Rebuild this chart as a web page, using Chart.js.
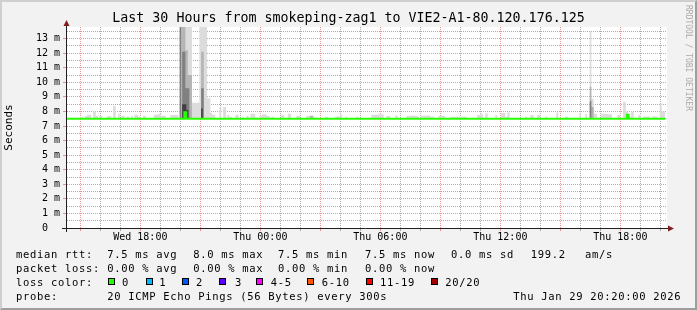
<!DOCTYPE html>
<html><head><meta charset="utf-8">
<script src="https://cdn.jsdelivr.net/npm/chart.js@4.4.1/dist/chart.umd.min.js"></script>
<style>
html,body{margin:0;padding:0;background:#f2f2f2;}
#wrap{position:relative;width:697px;height:310px;background:#f2f2f2;overflow:hidden;font-family:'DejaVu Sans Mono',monospace;}
#c{position:absolute;left:0;top:0;}
#frame{position:absolute;left:0;top:0;width:697px;height:310px;box-sizing:border-box;border-top:2px solid #cfcfcf;border-left:2px solid #cfcfcf;border-right:2px solid #9e9e9e;border-bottom:2px solid #9e9e9e;pointer-events:none;}
.t{position:absolute;font-size:10.5px;letter-spacing:0.68px;white-space:pre;color:#000;line-height:12px;}
.sq{position:absolute;width:7px;height:7px;box-sizing:border-box;border:1px solid #000;top:278px;}
#rrd{position:absolute;left:684px;top:5px;writing-mode:vertical-rl;font-size:8px;color:#aaaaaa;white-space:pre;line-height:9px;}
</style></head>
<body>
<div id="wrap">
<canvas id="c" width="697" height="310"></canvas>
<div id="rrd">RRDTOOL / TOBI OETIKER</div>
<div id="legend"></div>
<div id="frame"></div>
</div>
<script>
// ---- data (hours since Wed 00:00; values in ms) ----
const titleText = 'Last 30 Hours from smokeping-zag1 to VIE2-A1-80.120.176.125';
const xStart = 14.333, xEnd = 44.333;           // Wed 14:20 -> Thu 20:20
const xLabelHours = [18, 24, 30, 36, 42];
const xLabels = ['Wed 18:00', 'Thu 00:00', 'Thu 06:00', 'Thu 12:00', 'Thu 18:00'];
const yMajor = [0,1,2,3,4,5,6,7,8,9,10,11,12,13];
const yLabels = ['0  ','1 m','2 m','3 m','4 m','5 m','6 m','7 m','8 m','9 m','10 m','11 m','12 m','13 m'];
const yMax = 13.8;

const medianRtt = [[14.33,7.5],[20.2,7.95],[20.3,7.5],[42.33,7.78],[42.42,7.5],[44.25,7.5]];

const lightSmoke = [[14.33,7.5],[14.97,7.63],[15.14,7.5],[15.22,7.68],[15.34,7.77],[15.55,7.5],[15.64,8.02],[15.77,7.68],[15.89,7.5],[15.94,7.68],[16.1,7.5],[16.3,7.63],[16.39,7.68],[16.55,7.5],[16.64,8.38],[16.77,7.5],[16.89,7.84],[16.97,7.5],[17.05,7.68],[17.22,7.5],[17.3,7.63],[17.47,7.5],[17.55,7.7],[17.64,7.5],[17.7,7.77],[17.89,7.63],[18.05,7.5],[18.14,7.7],[18.27,7.5],[18.67,7.77],[18.8,7.8],[19.05,7.7],[19.27,7.5],[19.5,7.75],[19.9,7.5],
[19.97,14],[20.58,8.6],[20.95,14],[21.34,8.9],[21.5,7.9],[21.59,7.77],[21.75,7.5],[21.95,8.27],[22.05,7.5],[22.14,8.3],[22.29,7.5],[22.35,7.77],[22.45,7.63],[22.59,7.5],[22.75,7.77],[22.92,7.5],[23.09,7.63],[23.17,7.5],[23.3,7.7],[23.42,7.5],[23.5,7.84],[23.75,7.5],[23.97,7.7],[24.09,7.8],[24.3,7.7],[24.47,7.5],[24.54,7.63],[24.67,7.5],[25.04,7.77],[25.2,7.5],[25.37,7.84],[25.54,7.5],[25.8,7.7],[25.97,7.5],[26.3,7.7],[26.67,7.6],[26.8,7.5],[27.25,7.63],[27.37,7.5],[27.75,7.65],[28.0,7.77],[28.09,7.5],[28.25,7.63],[28.34,7.5],[28.8,7.63],[28.92,7.5],[29.55,7.77],[29.92,7.8],[30.17,7.5],[30.3,7.68],[30.5,7.5],[30.75,7.72],[30.87,7.5],[31.3,7.68],[31.5,7.72],[31.75,7.68],[31.92,7.5],[32.0,7.72],[32.5,7.63],[32.7,7.5],[32.9,7.68],[33.25,7.5],[33.5,7.63],[34.34,7.5],[34.84,7.75],[35.0,7.8],[35.14,7.5],[35.25,7.86],[35.37,7.5],[35.75,7.75],[35.84,7.5],[36.04,7.9],[36.25,7.63],[36.35,7.93],[36.47,7.5],[37.25,7.65],[37.34,7.5],[37.5,7.75],[37.67,7.5],[37.84,7.75],[38.0,7.5],[38.25,7.65],[38.34,7.5],[38.8,7.93],[38.9,7.5],[39.25,7.65],[39.37,7.5],[39.95,7.84],[40.04,7.5],[40.25,7.8],[40.34,7.5],[40.47,13.5],[40.55,8.85],[40.67,7.84],[40.84,7.5],[41.04,7.85],[41.34,7.8],[41.59,7.5],[41.85,7.75],[42.0,7.5],[42.14,8.66],[42.27,8.0],[42.4,7.6],[42.54,8.0],[42.67,7.5],[42.9,7.75],[43.04,7.5],[43.15,7.65],[43.5,7.5],[43.6,7.65],[43.85,7.5],[43.97,8.55],[44.07,8.0],[44.25,7.5]];

const mediumSmoke = [[14.33,7.5],[19.97,14],[20.05,7.5],[20.09,14],[20.25,12.2],[20.37,10.5],[20.58,7.5],[21.04,12.1],[21.17,7.5],[26.49,7.7],[26.63,7.5],[40.47,9.7],[40.55,8.3],[40.67,7.5],[44.25,7.5]];
const darkSmoke = [[14.33,7.5],[19.97,14],[20.05,7.5],[20.09,12.1],[20.25,9.6],[20.45,7.5],[21.04,9.6],[21.17,7.5],[40.47,8.7],[40.55,7.5],[44.25,7.5]];
const darkestSmoke = [[14.33,7.5],[20.09,8.5],[20.3,8.1],[20.4,7.5],[21.04,8.2],[21.12,7.5],[42.31,7.8],[42.38,7.5],[44.25,7.5]];

const lossColors = ['#26ff00','#00b8ff','#0059ff','#5e00ff','#ff00ff','#ff5500','#ff0000','#a10000'];
const lossLabels = ['0','1','2','3','4-5','6-10','11-19','20/20'];

// ---- chart ----
const FONT = "'DejaVu Sans Mono', monospace";
const MAJ = 'rgba(222,79,79,0.6)', MIN = 'rgba(143,143,143,0.75)';
const pts = a => a.map(p => ({x:p[0], y:p[1]}));
function smoke(arr, color, order){
  return {data: pts(arr), stepped: true, borderColor: 'rgba(0,0,0,0)', borderWidth: 1,
    backgroundColor: color, fill: {value: 7.5}, pointRadius: 0, order: order};
}
const frame = {
  id: 'rrdframe',
  beforeDraw(chart){
    const {ctx, chartArea: a} = chart;
    ctx.save(); ctx.fillStyle = '#ffffff';
    ctx.fillRect(a.left, a.top, a.right - a.left, a.bottom - a.top); ctx.restore();
  },
  afterDraw(chart){
    const {ctx, chartArea: a} = chart;
    ctx.save();
    ctx.strokeStyle = '#1f1f1f'; ctx.lineWidth = 1;
    ctx.beginPath();
    ctx.moveTo(a.left - 0.5, a.top - 5); ctx.lineTo(a.left - 0.5, a.bottom + 4);
    ctx.moveTo(a.left - 5, a.bottom + 0.5); ctx.lineTo(a.right + 2, a.bottom + 0.5);
    ctx.stroke();
    ctx.fillStyle = '#801f1f';
    ctx.beginPath();
    ctx.moveTo(a.left - 3.5, a.top - 1); ctx.lineTo(a.left - 0.5, a.top - 7); ctx.lineTo(a.left + 2.5, a.top - 1); ctx.closePath(); ctx.fill();
    ctx.beginPath();
    ctx.moveTo(a.right + 1, a.bottom - 2.5); ctx.lineTo(a.right + 7, a.bottom + 0.5); ctx.lineTo(a.right + 1, a.bottom + 3.5); ctx.closePath(); ctx.fill();
    ctx.restore();
  }
};

new Chart(document.getElementById('c'), {
  type: 'line',
  data: { datasets: [
    {data: pts(medianRtt), stepped: true, borderColor: lossColors[0], borderWidth: 2, pointRadius: 0, fill: false, order: 0},
    smoke(darkestSmoke, '#404040', 1),
    smoke(darkSmoke, '#808080', 2),
    smoke(mediumSmoke, '#b4b4b4', 3),
    smoke(lightSmoke, '#dcdcdc', 4)
  ]},
  options: {
    responsive: false, animation: false, devicePixelRatio: 1, events: [],
    layout: {padding: {top: 0, left: 0, right: 0, bottom: 62}},
    plugins: {
      legend: {display: false}, tooltip: {enabled: false},
      title: {display: true, text: titleText, color: '#000', font: {family: FONT, size: 13.3, weight: 'normal', lineHeight: 1.2}, padding: {top: 11, bottom: 0}}
    },
    scales: {
      x: {
        type: 'linear', min: xStart, max: xEnd,
        afterFit: s => { s.height = 20; },
        afterBuildTicks: s => { const t = []; for (let h = 15; h <= 44; h++) t.push({value: h}); s.ticks = t; },
        ticks: {autoSkip: false, maxRotation: 0, padding: 0, color: '#000', font: {family: FONT, size: 10},
          callback: v => { const i = xLabelHours.indexOf(v); return i >= 0 ? xLabels[i] : ''; }},
        grid: {color: c => (c.tick && c.tick.value % 3 === 0) ? MAJ : MIN, lineWidth: 1, tickLength: 3, tickBorderDash: [],
          tickColor: c => (c.tick && c.tick.value % 3 === 0) ? MAJ : MIN},
        border: {display: false, dash: [1, 1]}
      },
      y: {
        min: 0, max: yMax,
        afterFit: s => { s.width = 67; },
        afterBuildTicks: s => { const t = []; yMajor.forEach(v => { t.push({value: v}); t.push({value: v + 0.5}); }); s.ticks = t; },
        ticks: {autoSkip: false, padding: 3, color: '#000', font: {family: FONT, size: 10},
          callback: v => { const i = yMajor.indexOf(v); return i >= 0 ? yLabels[i] : ''; }},
        grid: {color: c => { const v = c.tick ? c.tick.value : 0; return v === 0 ? 'rgba(0,0,0,0)' : (Number.isInteger(v) ? MAJ : MIN); },
          lineWidth: 1, tickLength: 4, tickBorderDash: [],
          tickColor: c => { const v = c.tick ? c.tick.value : 0; return Number.isInteger(v) && v > 0 ? MAJ : 'rgba(0,0,0,0)'; }},
        border: {display: false, dash: [1, 1]},
        title: {display: true, text: 'Seconds', color: '#000', font: {family: FONT, size: 11}, padding: {top: 3, bottom: 0}}
      },
      yRight: {
        position: 'right', min: 0, max: yMax,
        afterFit: s => { s.width = 30; },
        ticks: {display: false}, grid: {display: false, drawTicks: false}, border: {display: false}
      }
    }
  },
  plugins: [frame]
});

// ---- legend text ----
const rows = [
  {top: 247.6, items: [[16,'median rtt:'],[107.3,'7.5 ms avg'],[193.3,'8.0 ms max'],[278,'7.5 ms min'],[365,'7.5 ms now'],[451,'0.0 ms sd'],[530.7,'199.2'],[585,'am/s']]},
  {top: 262, items: [[16,'packet loss:'],[107.3,'0.00 % avg'],[193.3,'0.00 % max'],[278,'0.00 % min'],[365,'0.00 % now']]},
  {top: 276, items: [[16,'loss color:']]},
  {top: 290.3, items: [[16,'probe:'],[107.3,'20 ICMP Echo Pings (56 Bytes) every 300s'],[513.3,'Thu Jan 29 20:20:00 2026']]}
];
const sqX = [108.3,145.7,182.3,219,255.7,306.7,365.7,430.7];
const lblX = [122,159.3,196,235,270.7,321.7,380,445.3];
const lg = document.getElementById('legend');
rows.forEach(r => r.items.forEach(([x, s]) => {
  const d = document.createElement('div'); d.className = 't'; d.style.left = x + 'px'; d.style.top = r.top + 'px'; d.textContent = s; lg.appendChild(d);
}));
lossLabels.forEach((l, i) => {
  const q = document.createElement('div'); q.className = 'sq'; q.style.left = sqX[i] + 'px'; q.style.background = lossColors[i]; lg.appendChild(q);
  const d = document.createElement('div'); d.className = 't'; d.style.left = lblX[i] + 'px'; d.style.top = '276px'; d.textContent = l; lg.appendChild(d);
});
</script>
</body></html>
